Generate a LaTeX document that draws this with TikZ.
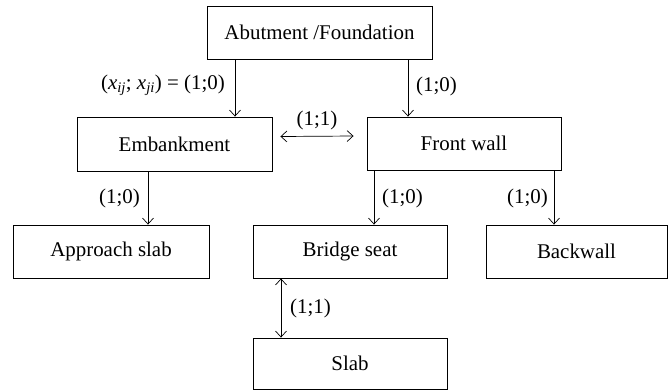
\documentclass[tikz,border=0pt]{standalone}
\usepackage{fontspec}
\setmainfont{Liberation Serif}
\usetikzlibrary{arrows.meta}
\begin{document}
\begin{tikzpicture}[x=1bp,y=-1bp,
  box/.style={draw, line width=0.9bp, inner sep=0pt, font=\fontsize{21}{25}\selectfont},
  lbl/.style={inner sep=0pt, font=\fontsize{21}{25}\selectfont},
  conn/.style={line width=0.7bp, -{Straight Barb[length=6bp,width=11bp]}},
  conn2/.style={line width=0.7bp, {Straight Barb[length=6bp,width=11bp]}-{Straight Barb[length=6bp,width=11bp]}}]
\useasboundingbox (0,0) rectangle (668,391);
\node[box, minimum width=225bp, minimum height=53bp] (top) at (319.5,32.5) {Abutment /Foundation};
\node[box, minimum width=195bp, minimum height=54bp] (emb) at (174.5,144) {Embankment};
\node[box, minimum width=194bp, minimum height=53bp] (front) at (464,143.5) {Front wall};
\node[box, minimum width=196bp, minimum height=53bp] (appr) at (111,251.5) {Approach slab};
\node[box, minimum width=194bp, minimum height=53bp] (bridge) at (350,251.5) {Bridge seat};
\node[box, minimum width=181bp, minimum height=53bp] (back) at (576.5,251.5) {Backwall};
\node[box, minimum width=194bp, minimum height=51bp] (slab) at (350,363.5) {Slab};

\draw[conn] (top.south -| 235,0) -- (emb.north -| 235,0);
\draw[conn] (top.south -| 408,0) -- (front.north -| 408,0);
\draw[conn2] ([xshift=8bp,yshift=7.5bp]emb.east) -- ([xshift=-13bp,yshift=7.5bp]front.west);
\draw[conn] (emb.south -| 148,0) -- (appr.north -| 148,0);
\draw[conn] (front.south -| 374,0) -- (bridge.north -| 374,0);
\draw[conn] (front.south -| 554,0) -- (back.north -| 554,0);
\draw[conn2] (bridge.south -| 281,0) -- (slab.north -| 281,0);

\node[lbl, anchor=east] (l1) at (225,85) {(\textit{x}\textsubscript{\textit{ij}}; \textit{x}\textsubscript{\textit{ji}}) = (1;0)};
\node[lbl, anchor=west] (l2) at (416,86) {(1;0)};
\node[lbl] (l3) at (317,120) {(1;1)};
\node[lbl, anchor=east] (l4) at (140,198) {(1;0)};
\node[lbl, anchor=west] (l5) at (382,198) {(1;0)};
\node[lbl, anchor=east] (l6) at (548,198) {(1;0)};
\node[lbl, anchor=west] (l7) at (290,308) {(1;1)};
\end{tikzpicture}
\end{document}
